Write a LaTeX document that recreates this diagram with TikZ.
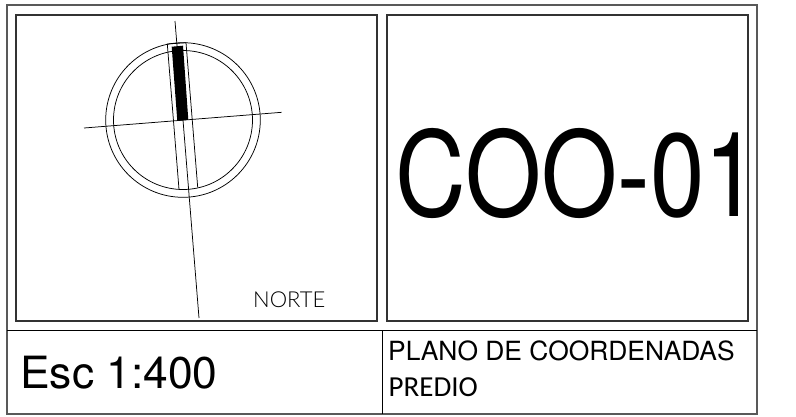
\documentclass[tikz,border=0pt]{standalone}
\usepackage{fontspec}
\setmainfont{Liberation Sans}
\newfontfamily\calib{Carlito}
\newfontfamily\thin{Lato Light}
\newfontfamily\heros{TeX Gyre Heros}
\tikzset{
  frameline/.style={line width=1.2pt,draw=black!65},
  panel/.style={line width=1.1pt,draw=black!80},
  thinline/.style={line width=.75pt,draw=black},
  lbl/.style={inner sep=0pt,anchor=base west,text=black}
}
\begin{document}
\begin{tikzpicture}[x=1pt,y=-1pt]
\useasboundingbox (0,0) rectangle (796,416);
\fill[white] (0,0) rectangle (796,416);
\coordinate (oa) at (7,5); \coordinate (ob) at (757,414);
\draw[frameline] (oa) rectangle (ob);
\coordinate (pa) at (16,15); \coordinate (pb) at (377,321);
\draw[panel] (pa) rectangle (pb);
\coordinate (qa) at (387,15); \coordinate (qb) at (748,321);
\draw[panel] (qa) rectangle (qb);
\coordinate (hl) at (7,330); \coordinate (hr) at (757,330);
\draw[line width=.9pt] (hl) -- (hr);
\coordinate (vt) at (382,330); \coordinate (vb) at (382,414);
\draw[line width=.9pt] (vt) -- (vb);
% compass
\coordinate (c) at (183,120);
\draw[thinline] (c) circle[radius=77.3];
\draw[thinline] (c) circle[radius=69.5];
\coordinate (na) at (175,21); \coordinate (nb) at (199,318);
\draw[thinline] (na) -- (nb);
\coordinate (ea) at (84,128); \coordinate (eb) at (281.7,112.3);
\draw[thinline] (ea) -- (eb);
\coordinate (la) at (167.3,44); \coordinate (lb) at (179,189.3);
\coordinate (ra) at (186,42.7); \coordinate (rb) at (197.7,187.3);
\draw[thinline] (lb) -- (la) -- (ra) -- (rb);
\fill[black] (171.7,46.7) -- (183,45.7) -- (188.3,119.7) -- (177.3,121) -- cycle;
% text
\node[lbl] (norte) at (253,307) {\fontsize{22}{22}\thin NORTE};
\node[lbl] (code) at (395,216.5) {\scalebox{.83}[1]{\fontsize{118}{118}\heros COO-01}};
\node[lbl] (esc) at (20,388) {\fontsize{44.4}{44.4}\heros Esc 1:400};
\node[lbl] (plano) at (388,360) {\fontsize{26.4}{26.4}\heros PLANO DE COORDENADAS};
\node[lbl] (pred) at (388.5,396) {\fontsize{29}{29}\calib PREDIO};
\end{tikzpicture}
\end{document}
